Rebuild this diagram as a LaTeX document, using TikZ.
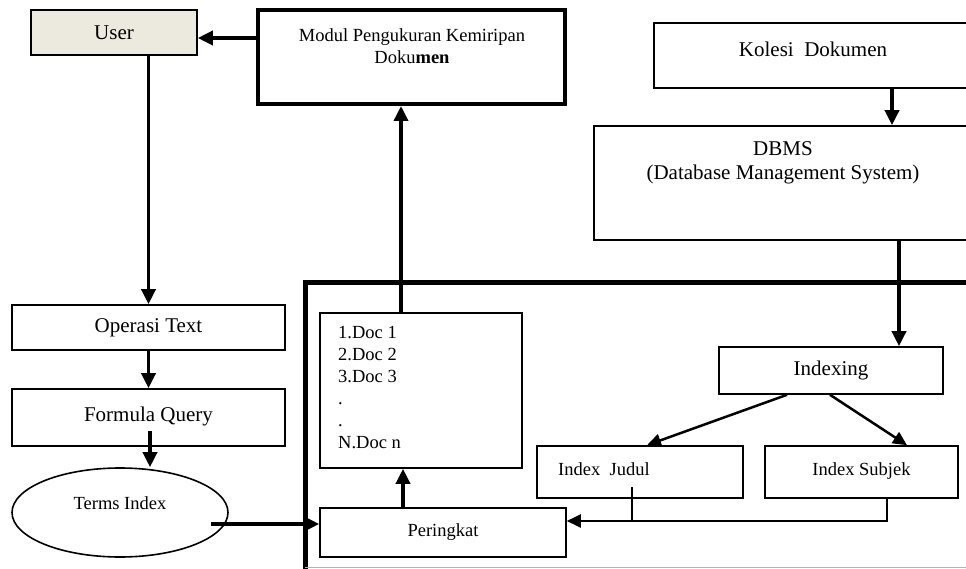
\documentclass[tikz,border=0pt]{standalone}
\usepackage{fontspec}
\setmainfont{Liberation Serif}
\usetikzlibrary{arrows.meta,shapes.geometric,calc}
\definecolor{userfill}{HTML}{ECE9DF}
\definecolor{edgegray}{HTML}{B4B4B4}
\begin{document}
\begin{tikzpicture}[x=1pt,y=-1pt,
  box/.style={draw, line width=1.6pt, inner sep=0pt, fill=white},
  bigtxt/.style={font=\fontsize{21}{24}\selectfont},
  smalltxt/.style={font=\fontsize{18.5}{22}\selectfont},
  modtxt/.style={font=\fontsize{18.5}{22}\selectfont},
  arr/.style={line width=3.5pt, -{Triangle[length=15pt,width=14pt]}},
  arrmid/.style={line width=2.5pt, -{Triangle[length=14pt,width=13pt]}},
  thinline/.style={line width=1.8pt},
]
\useasboundingbox (0,0) rectangle (966,569);

% frame
\draw[line width=5pt] (305,575) -- (305,283) -- (990,283);
\draw[edgegray, line width=1.5pt] (305,567.5) -- (966,567.5);

% nodes
\node[box, fill=userfill, minimum width=166pt, minimum height=45pt, bigtxt] (user) at (114,32.5) {User};
\node[box, line width=4pt, minimum width=307pt, minimum height=94pt] (modul) at (411.5,57) {};
\node[modtxt, align=center, inner sep=0pt] (modultxt) at (412,46) {Modul Pengukuran Kemiripan\\Doku\textbf{men}};

\node[box, minimum width=318pt, minimum height=65pt, bigtxt, text depth=12pt] (kolesi) at (813,55.5) {Kolesi\ \ Dokumen};
\node[box, minimum width=378pt, minimum height=114pt] (dbms) at (783,183) {};
\node[bigtxt, align=center, inner sep=0pt] (dbmstxt) at (783,163) {DBMS\\(Database Management System)};

\node[box, minimum width=273pt, minimum height=45pt, bigtxt] (operasi) at (148.5,327.5) {Operasi Text};
\node[box, minimum width=273pt, minimum height=57pt, bigtxt, text depth=7pt] (formula) at (148.5,417.5) {Formula Query};
\node[draw, ellipse, line width=1.6pt, minimum width=216pt, minimum height=89pt, inner sep=0pt] (terms) at (120,512.5) {};
\node[smalltxt, inner sep=0pt] (termstxt) at (120,503) {Terms Index};

\node[box, minimum width=202pt, minimum height=155pt] (doc) at (421,390.5) {};
\node[smalltxt, align=left, anchor=north west, inner sep=0pt] (doctxt) at (338,326)
  {1.Doc 1\\2.Doc 2\\3.Doc 3\\.\\.\\N.Doc n};
\node[box, minimum width=246pt, minimum height=49pt, smalltxt] (peringkat) at (443,532.5) {Peringkat};

\node[box, minimum width=224pt, minimum height=47pt, bigtxt] (indexing) at (831,370.5) {Indexing};
\node[box, minimum width=206pt, minimum height=52pt] (judul) at (640,472) {};
\node[smalltxt, anchor=west, inner sep=0pt] (judultxt) at (558,469) {Index\ \ Judul};
\node[box, minimum width=193pt, minimum height=52pt, smalltxt, text depth=6pt] (subjek) at (861.5,472) {Index Subjek};

% helper coordinates
\coordinate (y38) at (0,38);
\coordinate (x401) at (401,0);
\coordinate (x403) at (403,0);
\coordinate (x892) at (892,0);
\coordinate (x899) at (899,0);
\coordinate (x787) at (787,0);
\coordinate (x647) at (647,0);
\coordinate (x830) at (830,0);
\coordinate (x907) at (907,0);
\coordinate (x887) at (887,0);
\coordinate (fq) at (150,431);
\coordinate (tstart) at (211,524);
\coordinate (jstart) at (632,487);
\coordinate (jn) at (632,521);

% connectors
\draw[arr] (modul.west |- y38) -- (user.east |- y38);
\draw[arr] (user.south -| operasi.north) -- (operasi.north);
\draw[arr] (operasi.south) -- (formula.north);
\draw[arr] (fq) -- (fq |- terms.north);
\draw[arr] (tstart) -- (tstart -| peringkat.west);
\draw[arr] (doc.north -| x401) -- (modul.south -| x401);
\draw[arr] (peringkat.north -| x403) -- (doc.south -| x403);
\draw[arr] (kolesi.south -| x892) -- (dbms.north -| x892);
\draw[arr] (dbms.south -| x899) -- (indexing.north -| x899);
\draw[arrmid] (indexing.south -| x787) -- (judul.north -| x647);
\draw[arrmid] (indexing.south -| x830) -- (subjek.north -| x907);
\draw[thinline] (jstart) -- (jn);
\draw[arrmid] (subjek.south -| x887) |- (peringkat.east |- jn);
\end{tikzpicture}
\end{document}
